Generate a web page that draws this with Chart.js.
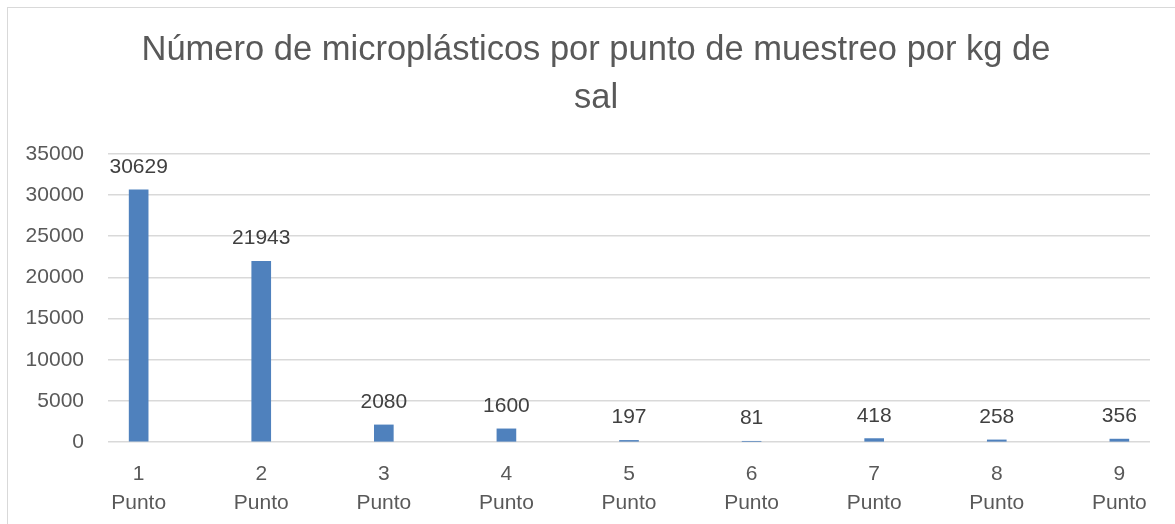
<!DOCTYPE html>
<html>
<head>
<meta charset="utf-8">
<script src="https://cdn.jsdelivr.net/npm/chart.js@4/dist/chart.umd.min.js"></script>
<style>
  html, body { margin: 0; padding: 0; background: #ffffff; overflow: hidden; }
  #frame { position: absolute; left: 7px; top: 7px; width: 1250px; height: 600px; border: 1px solid #d9d9d9; }
  #wrap { position: absolute; left: 0; top: 0; width: 1200px; height: 536px; }
</style>
</head>
<body>
<div id="frame"></div>
<div id="wrap"><canvas id="c" width="1200" height="536"></canvas></div>
<script>
const titleLines = ['Número de microplásticos por punto de muestreo por kg de', 'sal'];
const categories = [1, 2, 3, 4, 5, 6, 7, 8, 9];
const categoryWord = 'Punto';
const values = [30629, 21943, 2080, 1600, 197, 81, 418, 258, 356];
const yTicks = [0, 5000, 10000, 15000, 20000, 25000, 30000, 35000];

const FONT = "'Liberation Sans', Arial, sans-serif";

const dataLabels = {
  id: 'dataLabels',
  afterDatasetsDraw(chart) {
    const ctx = chart.ctx;
    const meta = chart.getDatasetMeta(0);
    ctx.save();
    ctx.font = '21px ' + FONT;
    ctx.fillStyle = '#404040';
    ctx.textAlign = 'center';
    ctx.textBaseline = 'alphabetic';
    meta.data.forEach((bar, i) => {
      ctx.fillText(String(values[i]), bar.x, bar.y - 17);
    });
    ctx.restore();
  }
};

new Chart(document.getElementById('c'), {
  type: 'bar',
  data: {
    datasets: [{
      data: categories.map((c, i) => ({ x: c, y: values[i] })),
      backgroundColor: '#4F81BD',
      borderColor: '#4F81BD',
      borderWidth: 0,
      barThickness: 19,
      yAxisID: 'y'
    }]
  },
  options: {
    responsive: false,
    animation: false,
    devicePixelRatio: 1,
    layout: { padding: { left: 2, right: 10, top: 0, bottom: 0 } },
    plugins: {
      legend: { display: false },
      tooltip: { enabled: false },
      title: {
        display: true,
        text: titleLines,
        color: '#595959',
        font: { family: FONT, size: 34.5, weight: 'normal', lineHeight: 1.39 },
        padding: { top: 27, bottom: 31 }
      }
    },
    scales: {
      x: {
        type: 'linear',
        offset: false,
        min: 0.75,
        max: 9.25,
        grid: { display: false, drawTicks: false },
        border: { display: false },
        afterBuildTicks(scale) {
          scale.ticks = categories.map(c => ({ value: c }));
        },
        ticks: {
          autoSkip: false,
          maxRotation: 0,
          includeBounds: false,
          stepSize: 1,
          padding: 18,
          color: '#595959',
          font: { family: FONT, size: 21, lineHeight: 1.38 },
          callback: (v) => [String(v), categoryWord]
        }
      },
      y: {
        position: 'left',
        min: 0,
        max: 35000,
        afterBuildTicks(scale) {
          scale.ticks = yTicks.map(v => ({ value: v }));
        },
        afterFit(scale) {
          scale.width = 106;
        },
        grid: { color: '#d9d9d9', lineWidth: 1.5, drawTicks: false },
        border: { display: false },
        ticks: {
          padding: 24,
          color: '#595959',
          font: { family: FONT, size: 21 },
          callback: (v) => String(v)
        }
      },
      yRight: {
        position: 'right',
        min: 0,
        max: 35000,
        grid: { display: false, drawTicks: false },
        border: { display: false },
        ticks: { display: false },
        afterFit(scale) {
          scale.width = 40;
        }
      }
    }
  },
  plugins: [dataLabels]
});
</script>
</body>
</html>
